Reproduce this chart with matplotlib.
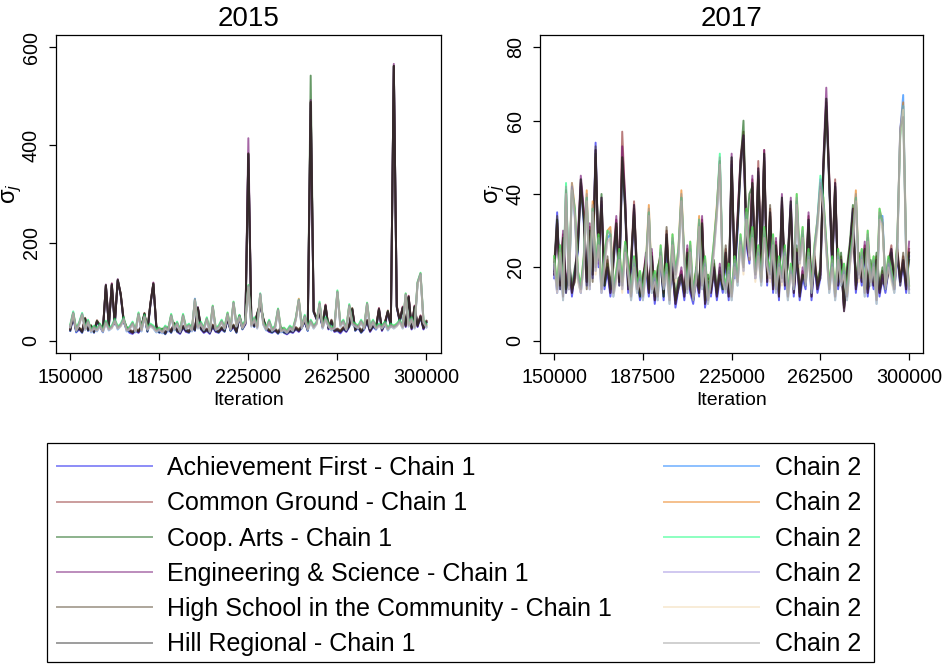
import matplotlib
matplotlib.use("Agg")
import matplotlib.pyplot as plt
from matplotlib.patches import Rectangle
import numpy as np

plt.rcParams["font.family"] = ["Liberation Sans", "DejaVu Sans"]
plt.rcParams["mathtext.fontset"] = "custom"
plt.rcParams["mathtext.it"] = "Liberation Sans:italic"
plt.rcParams["mathtext.rm"] = "Liberation Sans"

# kept draws, one every 1250 iterations after burn-in
iterations = np.arange(150000, 300001, 1250)

schools = ["Achievement First", "Common Ground", "Coop. Arts",
           "Engineering & Science", "High School in the Community", "Hill Regional"]

# ---- 2015, chain 1 ----
s15_af_1 = [20,48,17,23,16,43,20,28,16,38, 28,18,112,28,113,33,123,93,38,23,
            16,14,20,16,26,53,18,73,115,26, 16,20,13,23,16,33,18,14,26,18,
            16,28,20,66,23,16,20,14,28,18, 16,23,18,43,20,28,16,48,23,33,
            380,38,28,53,73,43,23,18,16,20, 14,23,16,13,18,16,23,18,26,38,
            20,485,58,43,53,28,70,23,38,18, 20,15,23,18,28,63,20,26,16,23,
            38,18,28,23,63,20,33,58,28,560, 68,38,66,28,88,23,68,28,48,23, 36]
s15_cg_1 = [24,52,22,27,20,47,24,32,20,42, 32,22,112,32,117,37,122,97,42,27,
            22,18,24,20,30,57,22,77,118,30, 20,24,17,27,20,37,22,18,30,22,
            20,32,24,66,27,20,24,18,32,22, 20,27,22,47,24,32,20,52,27,37,
            383,42,32,57,77,47,27,22,20,24, 18,27,20,17,22,20,27,22,30,42,
            24,488,62,47,57,32,74,27,42,22, 24,20,27,22,32,67,24,30,20,27,
            42,22,32,27,67,24,37,62,32,562, 72,42,70,32,92,27,72,32,52,27, 40]
s15_ca_1 = [21,55,19,26,17,46,21,31,17,41, 29,21,113,29,114,36,124,96,39,26,
            19,17,21,19,27,56,19,76,116,29, 17,23,14,26,17,36,19,17,27,21,
            17,31,21,67,24,19,21,17,29,21, 17,26,19,46,21,31,17,51,24,36,
            381,41,29,56,74,46,24,21,17,23, 15,26,17,16,19,19,24,21,27,41,
            21,542,59,46,58,31,71,26,39,21, 21,19,24,21,29,66,21,29,17,26,
            39,21,29,26,64,23,34,61,29,562, 69,41,67,31,89,26,69,31,49,26, 37]
s15_es_1 = [23,51,21,24,19,45,23,29,19,39, 31,19,115,31,117,34,126,94,41,24,
            21,15,23,17,29,54,21,74,119,27, 19,21,16,24,19,34,21,15,29,19,
            19,29,23,69,26,17,23,15,31,19, 19,24,21,44,23,29,19,49,26,34,
            414,39,31,54,76,44,26,19,19,21, 17,24,19,14,21,17,26,19,29,39,
            23,492,61,44,56,29,73,24,41,19, 23,17,26,19,31,64,23,27,19,24,
            41,19,31,24,66,21,36,59,31,566, 71,39,69,29,91,24,71,29,51,24, 39]
s15_hs_1 = [25,49,23,26,21,44,25,29,21,39, 33,23,113,33,114,34,124,94,43,28,
            23,19,25,21,31,54,23,74,116,31, 21,25,18,28,21,34,23,19,31,23,
            21,33,25,67,28,21,25,19,33,23, 21,28,23,44,25,33,21,49,28,38,
            382,43,33,54,74,44,28,23,21,25, 19,28,21,18,23,21,28,23,31,39,
            25,488,59,44,54,33,71,28,43,23, 25,21,28,23,33,64,25,31,21,28,
            43,23,33,28,64,25,38,59,33,561, 69,43,67,33,89,28,69,33,49,28, 41]
s15_hr_1 = [22,50,20,25,18,45,22,30,18,40, 30,20,114,30,115,35,125,95,40,25,
            20,16,22,18,28,55,20,75,117,28, 18,22,15,25,18,35,20,16,28,20,
            18,30,22,68,25,18,22,16,30,20, 18,25,20,45,22,30,18,50,25,35,
            383,40,30,55,75,45,25,20,18,22, 16,25,18,15,20,18,25,20,28,40,
            22,488,60,45,55,30,72,25,40,20, 22,18,25,20,30,65,22,28,18,25,
            40,20,30,25,65,22,35,60,30,562, 70,40,68,30,90,25,70,30,50,25, 38]

# ---- 2015, chain 2 ----
s15_af_2 = [28,56,19,33,53,22,38,17,26,19, 30,17,36,21,26,40,23,30,43,19,
            24,33,17,53,19,48,21,30,25,17, 21,15,26,19,50,21,34,17,50,23,
            30,19,86,25,34,21,43,17,68,21, 25,38,23,53,21,76,29,48,25,38,
            110,29,43,25,94,33,21,38,19,25, 62,17,21,15,26,19,43,82,25,48,
            21,38,25,34,74,25,43,29,21,25, 98,29,38,21,70,33,29,25,38,23,
            74,25,38,23,30,25,34,21,30,25, 30,38,25,93,29,43,25,116,135,38, 27]
s15_cg_2 = [31,57,24,36,54,27,41,22,29,24, 33,22,39,26,29,43,28,33,46,24,
            27,37,22,56,24,51,26,33,29,22, 26,20,29,24,53,26,37,22,53,28,
            33,24,84,30,37,26,46,22,71,26, 29,41,28,57,26,79,34,51,29,41,
            113,34,46,30,95,37,26,41,24,29, 65,22,26,20,29,24,46,86,30,51,
            26,41,30,37,77,30,46,34,26,29, 101,34,41,26,73,37,34,29,41,28,
            77,30,41,28,33,30,37,26,33,30, 34,41,30,96,34,46,30,119,138,41, 32]
s15_ca_2 = [33,60,25,38,57,28,43,23,31,25, 35,23,41,27,31,45,29,35,48,25,
            29,39,23,58,25,53,27,35,31,23, 27,21,31,25,55,27,39,23,55,29,
            35,25,84,31,39,27,48,23,72,27, 31,43,29,58,27,80,35,53,31,43,
            114,35,48,31,97,39,27,43,25,31, 66,23,27,21,31,25,48,84,31,53,
            27,43,31,39,80,31,48,35,27,31, 103,35,43,27,75,39,35,31,43,29,
            78,31,43,29,35,31,39,27,35,31, 35,43,31,97,35,48,31,120,139,43, 33]
s15_es_2 = [29,56,21,34,54,24,39,19,27,21, 31,19,37,23,27,41,25,31,44,21,
            25,35,19,54,21,49,23,31,27,19, 23,17,27,21,51,23,35,19,51,25,
            31,21,84,27,35,23,44,19,69,23, 27,39,25,54,23,77,31,49,27,39,
            111,31,44,27,95,35,23,39,21,27, 63,19,23,17,27,21,44,83,27,49,
            23,39,27,35,75,27,44,31,23,27, 99,31,39,23,71,35,31,27,39,25,
            75,27,39,25,31,27,35,23,31,27, 31,39,27,94,31,44,27,117,136,39, 29]
s15_hs_2 = [27,55,20,32,52,22,37,18,25,20, 29,18,35,22,25,39,24,29,42,20,
            23,33,18,52,20,47,22,29,25,18, 22,16,25,20,49,22,33,18,49,24,
            29,20,82,25,33,22,42,18,67,22, 25,37,24,52,22,75,29,47,25,37,
            109,29,42,25,93,33,22,37,20,25, 61,18,22,16,25,20,42,81,25,47,
            22,37,25,33,73,25,42,29,22,25, 97,29,37,22,69,33,29,25,37,24,
            73,25,37,24,29,25,33,22,29,25, 29,37,25,92,29,42,25,115,134,37, 27]
s15_hr_2 = [30,58,22,35,55,25,40,20,28,22, 32,20,38,24,28,42,26,32,45,22,
            26,36,20,55,22,50,24,32,28,20, 24,18,28,22,52,24,36,20,52,26,
            32,22,85,28,36,24,45,20,70,24, 28,40,26,55,24,78,32,50,28,40,
            112,32,45,28,96,36,24,40,22,28, 64,20,24,18,28,22,45,84,28,50,
            24,40,28,36,76,28,45,32,24,28, 100,32,40,24,72,36,32,28,40,26,
            76,28,40,26,32,28,36,24,32,28, 32,40,28,95,32,45,28,118,137,40, 30]

# ---- 2017, chain 1 ----
s17_af_1 = [17,35,14,26,13,22,12,19,24,42, 32,15,28,17,54,20,37,14,19,12,
            21,30,15,48,36,13,19,35,17,11, 15,20,12,22,10,17,21,11,27,13,
            19,9,14,17,11,22,13,10,17,12, 30,9,15,12,19,11,17,13,22,11,
            48,17,30,47,55,26,21,41,17,45, 19,50,15,33,13,24,11,37,14,21,
            37,12,23,11,17,14,32,11,21,13, 17,46,64,43,19,42,14,21,9,17,
            24,35,13,21,15,24,12,19,14,21, 12,17,13,19,24,14,23,15,21,13, 23]
s17_cg_1 = [20,31,16,29,15,19,14,17,27,43, 35,17,31,20,50,24,38,16,22,14,
            24,33,17,57,38,15,22,38,19,13, 17,23,14,24,12,19,24,13,30,15,
            21,11,16,19,13,25,15,12,19,14, 33,11,17,14,21,13,19,15,25,13,
            49,20,33,50,57,29,24,44,19,49, 22,52,17,36,15,27,13,38,16,23,
            36,14,25,13,19,16,34,13,23,15, 19,47,65,45,21,44,16,23,9,19,
            26,34,15,23,17,26,14,21,16,23, 14,19,15,21,26,16,25,17,23,15, 25]
s17_ca_1 = [19,33,17,27,14,21,15,20,25,44, 33,18,29,19,51,23,40,15,21,15,
            23,31,18,49,37,16,21,36,20,12, 18,21,15,23,13,20,23,12,28,16,
            22,12,17,18,14,23,16,13,20,15, 31,12,18,15,22,14,20,14,23,14,
            50,19,31,48,60,30,40,42,20,46, 21,51,18,34,16,25,14,39,17,24,
            38,15,26,14,18,17,33,14,20,16, 20,48,66,43,22,42,17,24,10,20,
            27,37,16,24,18,25,15,22,17,24, 15,20,16,22,24,17,22,18,20,16, 22]
s17_es_1 = [18,32,15,30,16,20,13,18,28,45, 36,16,32,18,52,21,39,17,20,13,
            22,34,16,53,39,14,20,37,18,14, 16,24,13,25,11,18,22,14,29,14,
            20,10,15,20,12,26,14,11,18,13, 34,10,16,13,20,12,21,16,24,12,
            51,18,34,49,56,27,22,45,18,47, 20,52,16,35,14,28,12,40,15,22,
            39,13,24,12,20,15,35,12,22,14, 18,49,69,44,20,43,15,22,8,18,
            25,36,14,22,16,27,13,20,15,22, 13,18,14,20,25,15,24,16,22,14, 27]
s17_hs_1 = [21,34,14,28,13,23,14,16,26,41, 34,14,30,16,53,22,36,15,23,14,
            20,32,15,50,35,15,23,34,16,13, 15,22,14,21,12,17,20,13,31,15,
            18,11,14,17,13,24,15,12,16,14, 32,11,15,14,18,13,18,15,26,13,
            47,21,32,46,54,28,23,43,21,44, 23,49,17,37,15,26,13,36,16,20,
            35,14,22,13,18,16,31,13,24,15, 17,45,63,42,21,41,16,20,9,17,
            23,33,15,20,17,24,14,18,16,21, 14,16,15,18,23,16,26,15,24,15, 24]
s17_hr_1 = [18,33,15,28,14,20,13,18,26,44, 34,16,30,18,52,22,39,15,20,13,
            22,32,16,50,38,14,20,37,18,12, 16,22,13,23,11,18,22,12,29,14,
            20,10,15,18,12,24,14,11,18,13, 32,10,16,13,20,12,18,14,24,12,
            50,18,32,49,56,28,22,43,18,47, 20,51,16,35,14,26,12,39,15,22,
            38,13,24,12,18,15,33,12,22,14, 18,48,66,44,20,43,15,22,8,18,
            25,36,14,22,16,25,13,20,15,22, 13,18,14,20,25,15,24,16,22,14, 24]

# ---- 2017, chain 2 ----
s17_af_2 = [21,13,24,11,41,14,42,34,17,13, 21,39,14,36,19,27,13,21,28,29,
            12,17,23,14,25,19,11,21,13,17, 11,19,35,13,17,11,24,14,19,10,
            27,17,23,39,21,13,25,11,17,32, 14,21,10,17,25,35,49,17,13,19,
            11,21,15,27,19,34,23,29,17,24, 15,29,21,17,27,13,21,16,24,11,
            19,14,38,21,29,15,23,13,24,31, 42,37,25,13,21,11,23,15,19,11,
            21,27,39,17,23,12,28,15,21,10, 34,34,14,21,17,13,25,57,67,23, 13]
s17_cg_2 = [23,15,26,13,41,16,43,36,19,15, 23,41,16,38,21,29,15,23,30,31,
            14,19,25,16,27,21,13,23,15,19, 13,21,37,15,19,13,26,16,21,12,
            29,19,25,41,23,15,27,13,19,34, 16,23,12,19,27,37,49,19,15,21,
            13,23,17,29,21,36,25,31,19,26, 17,31,23,19,29,15,23,18,26,13,
            21,16,40,23,31,17,25,15,26,33, 42,39,27,15,23,13,25,17,21,13,
            23,29,41,19,25,14,30,17,23,12, 36,32,16,23,19,15,27,57,65,26, 15]
s17_ca_2 = [23,15,26,13,43,16,41,36,19,15, 23,39,16,36,21,29,15,23,30,29,
            14,19,25,16,27,21,13,23,15,19, 13,21,35,15,19,13,26,16,21,12,
            29,19,25,39,23,15,27,13,19,33, 16,23,12,19,27,36,51,19,15,21,
            13,23,17,29,21,36,25,31,19,26, 17,31,23,19,29,15,23,18,26,13,
            21,16,40,23,31,17,25,15,26,33, 45,39,27,15,23,13,25,17,21,13,
            23,29,39,19,25,14,30,17,23,12, 36,32,16,23,19,15,27,56,64,24, 15]
s17_es_2 = [20,13,23,12,40,14,42,33,17,13, 21,38,14,35,19,26,13,21,27,28,
            13,17,22,14,24,19,12,21,14,17, 12,19,34,14,17,12,23,15,19,11,
            26,17,23,38,21,14,24,12,17,31, 15,21,11,17,24,34,48,17,14,19,
            12,21,16,27,19,33,23,28,17,24, 16,28,21,17,26,14,21,16,24,12,
            19,15,37,21,28,16,23,14,24,33, 44,37,25,14,21,12,23,16,19,12,
            21,27,38,17,23,13,27,16,21,11, 33,32,15,21,18,14,25,58,64,23, 14]
s17_hs_2 = [21,13,24,11,40,14,41,34,16,13, 20,38,14,35,18,26,13,20,27,28,
            12,16,22,13,24,18,11,20,13,16, 11,18,34,13,16,11,23,14,18,10,
            26,16,22,38,20,13,24,11,16,31, 14,20,10,16,24,34,48,16,13,18,
            11,20,15,26,18,33,22,28,16,23, 15,28,20,16,26,13,20,15,23,11,
            18,14,37,20,28,15,22,13,23,30, 41,36,24,13,20,11,22,15,18,11,
            20,26,38,16,22,12,27,15,20,10, 33,31,14,20,16,13,24,56,63,22, 13]
s17_hr_2 = [22,14,25,12,42,15,43,35,18,14, 22,40,15,37,20,28,14,22,29,30,
            13,18,24,15,26,20,12,22,14,18, 12,20,36,14,18,12,25,15,20,11,
            28,18,24,40,22,14,26,12,18,33, 15,22,11,18,26,36,50,18,14,20,
            12,22,16,28,20,35,24,30,18,25, 16,30,22,18,28,14,22,17,25,12,
            20,15,39,22,30,16,24,14,25,32, 43,38,26,14,22,12,24,16,20,12,
            22,28,40,18,24,13,29,16,22,11, 35,33,15,22,18,14,26,58,61,24, 14]

chain1_15 = [s15_af_1, s15_cg_1, s15_ca_1, s15_es_1, s15_hs_1, s15_hr_1]
chain2_15 = [s15_af_2, s15_cg_2, s15_ca_2, s15_es_2, s15_hs_2, s15_hr_2]
chain1_17 = [s17_af_1, s17_cg_1, s17_ca_1, s17_es_1, s17_hs_1, s17_hr_1]
chain2_17 = [s17_af_2, s17_cg_2, s17_ca_2, s17_es_2, s17_hs_2, s17_hr_2]

colors1 = ["#0000ee", "#8b2525", "#005500", "#6a006a", "#4a3a20", "#262626"]
colors2 = ["#0073ff", "#e97300", "#00ff73", "#9785de", "#f0d5a8", "#979797"]
alpha = 0.6
lw = 1.4

fig = plt.figure(figsize=(9.47, 6.64), dpi=100)
W, H = 947, 664
ax15 = fig.add_axes([56 / W, 1 - 352.7 / H, 384.7 / W, 318.2 / H])
ax17 = fig.add_axes([540 / W, 1 - 352.7 / H, 383.3 / W, 318.2 / H])

panels = [(ax15, "2015", chain1_15, chain2_15, (-24.5, 626), [0, 200, 400, 600], -0.083),
          (ax17, "2017", chain1_17, chain2_17, (-3.3, 83.5), [0, 20, 40, 60, 80], -0.086)]

for ax, title, c1, c2, ylim, yt, ylab_x in panels:
    for vals, col, name in zip(c1, colors1, schools):
        ax.plot(iterations, vals, color=col, alpha=alpha, lw=lw, label=name + " - Chain 1")
    for vals, col in zip(c2, colors2):
        ax.plot(iterations, vals, color=col, alpha=alpha, lw=lw, label="Chain 2")
    ax.set_xlim(144000, 306000)
    ax.set_ylim(*ylim)
    ax.set_xticks([150000, 187500, 225000, 262500, 300000])
    ax.set_xticklabels(["150000", "187500", "225000", "262500", "300000"])
    ax.set_yticks(yt)
    ax.tick_params(labelsize=14.2, length=5, width=0.9, pad=6)
    for lab in ax.get_yticklabels():
        lab.set_rotation(90)
        lab.set_va("center")
    ax.set_title(title, fontsize=20, pad=6)
    ax.set_xlabel("Iteration", fontsize=14, labelpad=3.5)
    ax.set_ylabel("σ$_j$", fontsize=17)
    ax.yaxis.set_label_coords(ylab_x, 0.5)
    for sp in ax.spines.values():
        sp.set_linewidth(0.9)

handles, labels = ax15.get_legend_handles_labels()
leg = fig.legend(handles, labels, ncol=2, loc="upper left",
                 bbox_to_anchor=(46.7 / W, 1 - 445.7 / H), borderaxespad=0,
                 fontsize=18, handlelength=3.8, handletextpad=0.61,
                 columnspacing=2.08, borderpad=0.42, labelspacing=0.45,
                 frameon=False)
for h in leg.legend_handles:
    h.set_alpha(0.45)

# legend box
fig.add_artist(Rectangle((46.7 / W, 1 - 662 / H), (874 - 46.7) / W, (662 - 442.7) / H,
                         transform=fig.transFigure, fill=False, edgecolor="black", lw=0.9))

fig.savefig("out.png", dpi=100)
